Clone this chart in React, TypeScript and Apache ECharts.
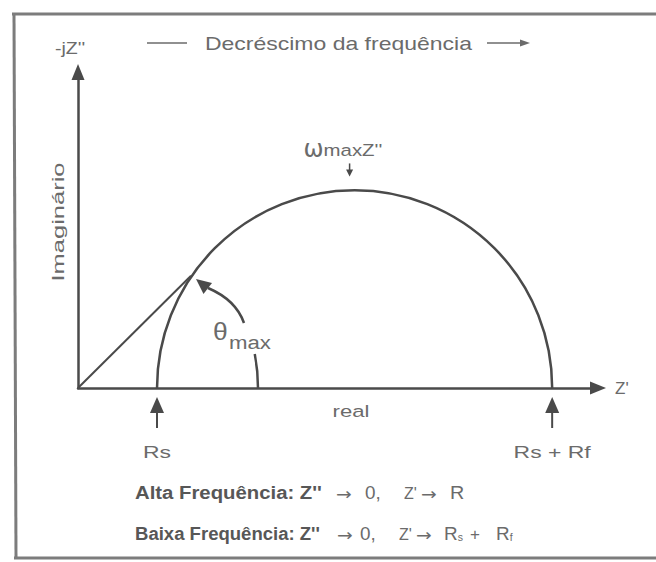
import React, { useEffect, useRef } from "react";
import * as echarts from "echarts";

// Equivalent-circuit resistances (arbitrary units along Z')
const RS = 1.0;
const RF = 5.0;

// Semicircle item: [Rs, Rf]
const SEMICIRCLE = [[RS, RF]];
// Line from the origin to the point of maximum phase angle
const THETA_LINE = [
  [0, 0],
  [1.43, 1.42],
];
// Origin of the phase-angle annotation
const ANGLE_ORIGIN = [[0, 0]];
// Markers drawn below the real axis
const MARK_VALUES = [RS, RS + RF];
const MARK_LABELS = ["Rs", "Rs + Rf"];

// Axis extents and texts
const X_MAX = 6.58;
const Y_MAX = 4.0;
const X_NAME = "Z'";
const Y_NAME = "-jZ''";
const X_TITLE = "real";
const Y_TITLE = "Imaginário";
const TOP_TITLE = "Decréscimo da frequência";
const PEAK_SYMBOL = "ω";
const PEAK_LABEL = "maxZ''";
const ANGLE_SYMBOL = "θ";
const ANGLE_LABEL = "max";
const HIGH_FREQ = "Alta Frequência: Z''";
const LOW_FREQ = "Baixa Frequência: Z''";

const INK = "#4a4a4a";
const TEXT_C = "#6b6b6b";
const BOLD_C = "#575757";
const FRAME_C = "#7c7c7c";
const FONT = "'Liberation Sans', Arial, Helvetica, sans-serif";
const ARROW_FONT = "'DejaVu Sans', sans-serif";

const GRID = { left: 78, top: 72, width: 520, height: 316 };

const txt = (
  x: number,
  y: number,
  text: string,
  fontSize: number,
  scaleX = 1,
  extra: any = {}
) => ({
  type: "text",
  x,
  y,
  scaleX,
  silent: true,
  style: {
    text,
    fontSize,
    fontFamily: FONT,
    fill: TEXT_C,
    align: "left",
    verticalAlign: "middle",
    ...extra,
  },
});

const arrowTxt = (x: number, y: number) =>
  txt(x, y, "→", 17, 1.1, { fontFamily: ARROW_FONT });

const renderSemicircle = (_params: any, api: any) => {
  const rs = api.value(0) as number;
  const rf = api.value(1) as number;
  const c = api.coord([rs + rf / 2, 0]);
  const r = api.size([rf / 2, 0])[0];
  const top = c[1] - r;
  const ax = c[0] - 5;
  return {
    type: "group",
    children: [
      {
        type: "arc",
        shape: { cx: c[0], cy: c[1], r, startAngle: Math.PI, endAngle: Math.PI * 2, clockwise: true },
        style: { stroke: INK, lineWidth: 2.5, fill: "none" },
      },
      {
        type: "line",
        shape: { x1: ax, y1: top - 27, x2: ax, y2: top - 19 },
        style: { stroke: INK, lineWidth: 1.5 },
      },
      {
        type: "polygon",
        shape: { points: [[ax - 3.5, top - 21], [ax + 3.5, top - 21], [ax, top - 14]] },
        style: { fill: INK },
      },
      {
        type: "text",
        x: c[0] - 51,
        y: top - 41,
        style: {
          text: PEAK_SYMBOL,
          fontSize: 24,
          fontFamily: ARROW_FONT,
          fill: TEXT_C,
          align: "left",
          verticalAlign: "middle",
        },
      },
      {
        type: "text",
        x: c[0] - 31,
        y: top - 40,
        scaleX: 1.2,
        style: {
          text: PEAK_LABEL,
          fontSize: 17,
          fontFamily: FONT,
          fill: TEXT_C,
          align: "left",
          verticalAlign: "middle",
        },
      },
    ],
  };
};

const renderAngle = (_params: any, api: any) => {
  const o = api.coord([api.value(0), api.value(1)]);
  const ox = o[0];
  const oy = o[1];
  return {
    type: "group",
    children: [
      {
        type: "arc",
        shape: { cx: ox, cy: oy, r: 180, startAngle: -0.19, endAngle: 0, clockwise: true },
        style: { stroke: INK, lineWidth: 2.5, fill: "none" },
      },
      {
        type: "bezierCurve",
        shape: { x1: ox + 166, y1: oy - 65, cpx1: ox + 158, cpy1: oy - 88, x2: ox + 130, y2: oy - 100 },
        style: { stroke: INK, lineWidth: 2.5, fill: "none" },
      },
      {
        type: "polygon",
        shape: {
          points: [
            [ox + 118, oy - 109],
            [ox + 134, oy - 105],
            [ox + 125.5, oy - 94],
          ],
        },
        style: { fill: INK },
      },
      {
        type: "text",
        x: ox + 135,
        y: oy - 56,
        scaleX: 1.15,
        style: { text: ANGLE_SYMBOL, fontSize: 23, fontFamily: FONT, fill: TEXT_C, align: "left", verticalAlign: "middle" },
      },
      {
        type: "text",
        x: ox + 151,
        y: oy - 46,
        scaleX: 1.17,
        style: { text: ANGLE_LABEL, fontSize: 19, fontFamily: FONT, fill: TEXT_C, align: "left", verticalAlign: "middle" },
      },
    ],
  };
};

const renderMarks = (params: any, api: any) => {
  const p = api.coord([api.value(0), 0]);
  const x = p[0];
  const y = p[1];
  return {
    type: "group",
    children: [
      {
        type: "polygon",
        shape: { points: [[x, y + 9], [x - 7, y + 25], [x + 7, y + 25]] },
        style: { fill: INK },
      },
      {
        type: "line",
        shape: { x1: x, y1: y + 22, x2: x, y2: y + 40 },
        style: { stroke: INK, lineWidth: 2 },
      },
      {
        type: "text",
        x,
        y: y + 64,
        scaleX: 1.35,
        style: {
          text: MARK_LABELS[params.dataIndex],
          fontSize: 17,
          fontFamily: FONT,
          fill: TEXT_C,
          align: "center",
          verticalAlign: "middle",
        },
      },
    ],
  };
};

const subRich = {
  n: { fontSize: 18, fontFamily: FONT, fill: TEXT_C, verticalAlign: "bottom" },
  s: { fontSize: 10, fontFamily: FONT, fill: TEXT_C, verticalAlign: "bottom" },
};

const buildOption = () => ({
  animation: false,
  backgroundColor: "#ffffff",
  grid: GRID,
  xAxis: {
    type: "value",
    min: 0,
    max: X_MAX,
    name: X_NAME,
    nameLocation: "end",
    nameGap: 17,
    nameTextStyle: { fontSize: 17, fontFamily: FONT, color: TEXT_C },
    axisLine: {
      show: true,
      onZero: false,
      symbol: ["none", "triangle"],
      symbolSize: [13, 16],
      lineStyle: { color: INK, width: 2.5 },
    },
    axisTick: { show: false },
    axisLabel: { show: false },
    splitLine: { show: false },
  },
  yAxis: {
    type: "value",
    min: 0,
    max: Y_MAX,
    axisLine: {
      show: true,
      onZero: false,
      symbol: ["none", "triangle"],
      symbolSize: [13, 16],
      lineStyle: { color: INK, width: 2.5 },
    },
    axisTick: { show: false },
    axisLabel: { show: false },
    splitLine: { show: false },
  },
  series: [
    {
      type: "custom",
      coordinateSystem: "cartesian2d",
      data: SEMICIRCLE,
      encode: { x: 0, y: 1 },
      renderItem: renderSemicircle,
      silent: true,
    },
    {
      type: "line",
      data: THETA_LINE,
      showSymbol: false,
      symbol: "none",
      clip: false,
      lineStyle: { color: INK, width: 2 },
      silent: true,
    },
    {
      type: "custom",
      coordinateSystem: "cartesian2d",
      data: ANGLE_ORIGIN,
      encode: { x: 0, y: 1 },
      renderItem: renderAngle,
      silent: true,
    },
    {
      type: "custom",
      coordinateSystem: "cartesian2d",
      data: MARK_VALUES.map((v) => [v, 0]),
      encode: { x: 0, y: 1 },
      renderItem: renderMarks,
      silent: true,
    },
  ],
  graphic: [
    // frame
    { type: "line", silent: true, shape: { x1: 12, y1: 14, x2: 656, y2: 14 }, style: { stroke: FRAME_C, lineWidth: 3 } },
    { type: "line", silent: true, shape: { x1: 14, y1: 14, x2: 16, y2: 558 }, style: { stroke: FRAME_C, lineWidth: 3 } },
    { type: "line", silent: true, shape: { x1: 14, y1: 558, x2: 656, y2: 558 }, style: { stroke: FRAME_C, lineWidth: 3 } },
    // imaginary-axis name
    txt(55, 48, Y_NAME, 17, 1.15),
    // frequency direction banner
    { type: "line", silent: true, shape: { x1: 147, y1: 43, x2: 187, y2: 43 }, style: { stroke: TEXT_C, lineWidth: 1.5 } },
    txt(205, 43, TOP_TITLE, 19, 1.21),
    { type: "line", silent: true, shape: { x1: 487, y1: 43, x2: 522, y2: 43 }, style: { stroke: TEXT_C, lineWidth: 1.5 } },
    { type: "polygon", silent: true, shape: { points: [[520, 39.5], [530, 43], [520, 46.5]] }, style: { fill: TEXT_C } },
    // axis titles
    {
      type: "text",
      x: 58,
      y: 222,
      rotation: Math.PI / 2,
      scaleX: 1.5,
      silent: true,
      style: { text: Y_TITLE, fontSize: 17, fontFamily: FONT, fill: TEXT_C, align: "center", verticalAlign: "middle" },
    },
    {
      type: "text",
      x: 351,
      y: 411,
      scaleX: 1.3,
      silent: true,
      style: { text: X_TITLE, fontSize: 17, fontFamily: FONT, fill: TEXT_C, align: "center", verticalAlign: "middle" },
    },
    // high-frequency limit
    txt(135, 493, HIGH_FREQ, 18, 1.13, { fontWeight: "bold", fill: BOLD_C }),
    arrowTxt(336, 494),
    txt(365, 493, "0,", 18, 1.05),
    txt(404, 493, "Z'", 16),
    arrowTxt(421, 494),
    txt(450, 493, "R", 18, 1.1),
    // low-frequency limit
    txt(135, 534, LOW_FREQ, 18, 1.03, { fontWeight: "bold", fill: BOLD_C }),
    arrowTxt(337, 535),
    txt(360, 534, "0,", 18, 1.05),
    txt(399, 534, "Z'", 16),
    arrowTxt(416, 535),
    txt(444, 534, "{n|R}{s|s}", 18, 1.05, { rich: subRich }),
    txt(470, 534, "+", 17),
    txt(496, 534, "{n|R}{s|f}", 18, 1.05, { rich: subRich }),
  ],
});

export default function App() {
  const ref = useRef<HTMLDivElement>(null);
  useEffect(() => {
    if (!ref.current) return;
    const chart = echarts.init(ref.current, null, { renderer: "svg" });
    chart.setOption(buildOption() as any);
    return () => chart.dispose();
  }, []);
  return (
    <div
      ref={ref}
      style={{ position: "absolute", left: 0, top: 0, width: 656, height: 562, background: "#ffffff" }}
    />
  );
}
